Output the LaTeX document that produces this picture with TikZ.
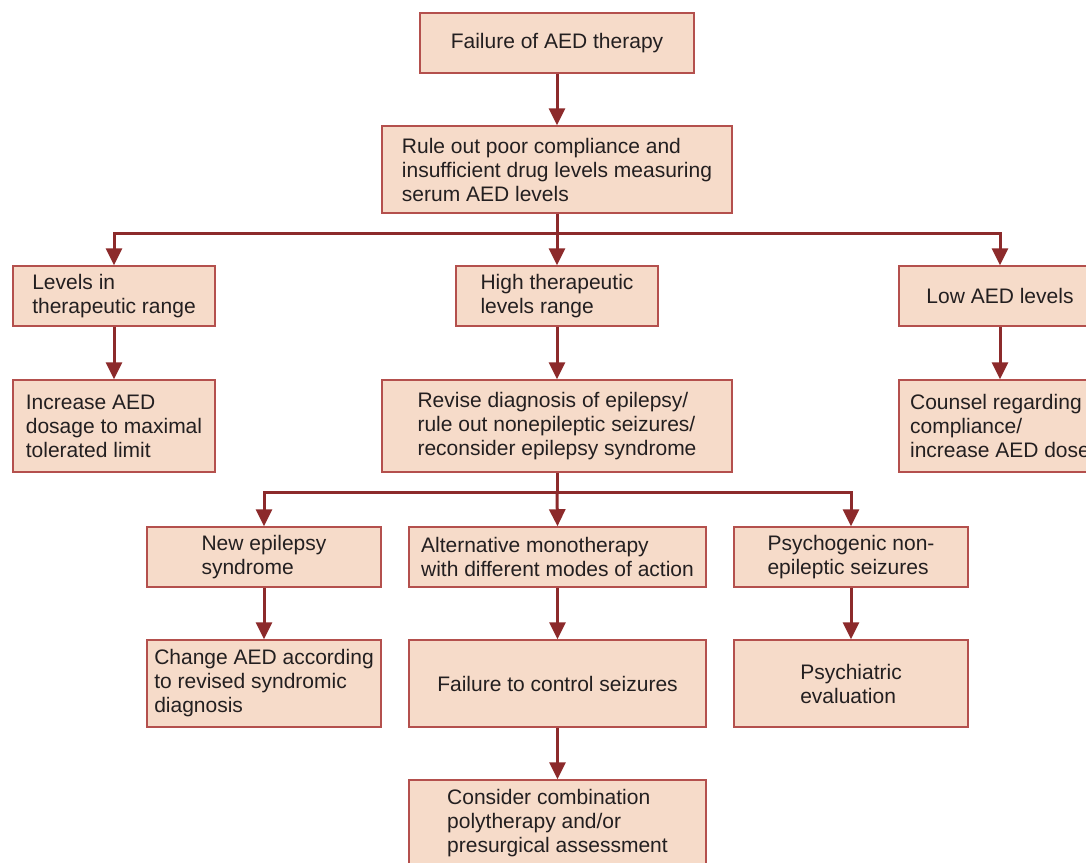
\documentclass[tikz,border=0pt]{standalone}
\usepackage{fontspec}
\setmainfont{Liberation Sans}
\usetikzlibrary{arrows.meta}
\definecolor{boxfill}{HTML}{F6DBC9}
\definecolor{boxline}{HTML}{B4504D}
\definecolor{arrcol}{HTML}{8C2A2B}
\definecolor{txtcol}{HTML}{231F20}
\begin{document}
\begin{tikzpicture}[x=1pt,y=-1pt,
  fbox/.style={draw=boxline, fill=boxfill, line width=1.5pt, align=left, inner sep=0pt,
    text=txtcol, font=\fontsize{21}{24}\selectfont},
  arr/.style={draw=arrcol, line width=3pt, -{Triangle[width=16pt,length=17pt]}},
  ln/.style={draw=arrcol, line width=3pt}]
\useasboundingbox (0,0) rectangle (1086,862);
\clip (0,0) rectangle (1086,862);
\fill[white] (0,0) rectangle (1086,862);
% nodes
\node[fbox, minimum width=274pt, minimum height=60pt] (n1) at (557,43) {Failure of AED therapy};
\node[fbox, minimum width=350pt, minimum height=87pt] (n2) at (557,169.5) {Rule out poor compliance and\\insufficient drug levels measuring\\serum AED levels};
\node[fbox, minimum width=202pt, minimum height=60pt] (L1) at (114,296) {Levels in\\therapeutic range};
\node[fbox, minimum width=202pt, minimum height=92pt] (L2) at (114,426) {Increase AED\\dosage to maximal\\tolerated limit};
\node[fbox, minimum width=202pt, minimum height=60pt] (H1) at (557,296) {High therapeutic\\levels range};
\node[fbox, minimum width=350pt, minimum height=92pt] (M2) at (557,426) {Revise diagnosis of epilepsy/\\rule out nonepileptic seizures/\\reconsider epilepsy syndrome};
\node[fbox, minimum width=202pt, minimum height=60pt] (R1) at (1000,296) {Low AED levels};
\node[fbox, minimum width=202pt, minimum height=92pt] (R2) at (1000,426) {Counsel regarding\\compliance/\\increase AED dose};
\node[fbox, minimum width=234pt, minimum height=60pt] (A1) at (264,557) {New epilepsy\\syndrome};
\node[fbox, minimum width=297pt, minimum height=60pt] (B1) at (557.5,557) {Alternative monotherapy\\with different modes of action};
\node[fbox, minimum width=234pt, minimum height=60pt] (C1) at (851,557) {Psychogenic non-\\epileptic seizures};
\node[fbox, minimum width=234pt, minimum height=87pt] (A2) at (264,683.5) {Change AED according\\to revised syndromic\\diagnosis};
\node[fbox, minimum width=297pt, minimum height=87pt] (B2) at (557.5,683.5) {Failure to control seizures};
\node[fbox, minimum width=234pt, minimum height=87pt] (C2) at (851,683.5) {Psychiatric\\evaluation};
\node[fbox, minimum width=297pt, minimum height=87pt] (B3) at (557.5,823.5) {Consider combination\\polytherapy and/or\\presurgical assessment};
% junctions
\coordinate (j1) at (557,233);
\coordinate (j2) at (557,492);
% connectors
\draw[arr] (n1.south) -- (n2.north);
\draw[ln] (n2.south) -- (j1);
\draw[arr] (j1) -| (L1.north);
\draw[arr] (j1) -| (R1.north);
\draw[arr] (j1) -- (H1.north);
\draw[arr] (L1.south) -- (L2.north);
\draw[arr] (H1.south) -- (M2.north);
\draw[arr] (R1.south) -- (R2.north);
\draw[ln] (M2.south) -- (j2);
\draw[arr] (j2) -| (A1.north);
\draw[arr] (j2) -| (C1.north);
\draw[arr] (j2) -- (B1.north);
\draw[arr] (A1.south) -- (A2.north);
\draw[arr] (B1.south) -- (B2.north);
\draw[arr] (C1.south) -- (C2.north);
\draw[arr] (B2.south) -- (B3.north);
\end{tikzpicture}
\end{document}
